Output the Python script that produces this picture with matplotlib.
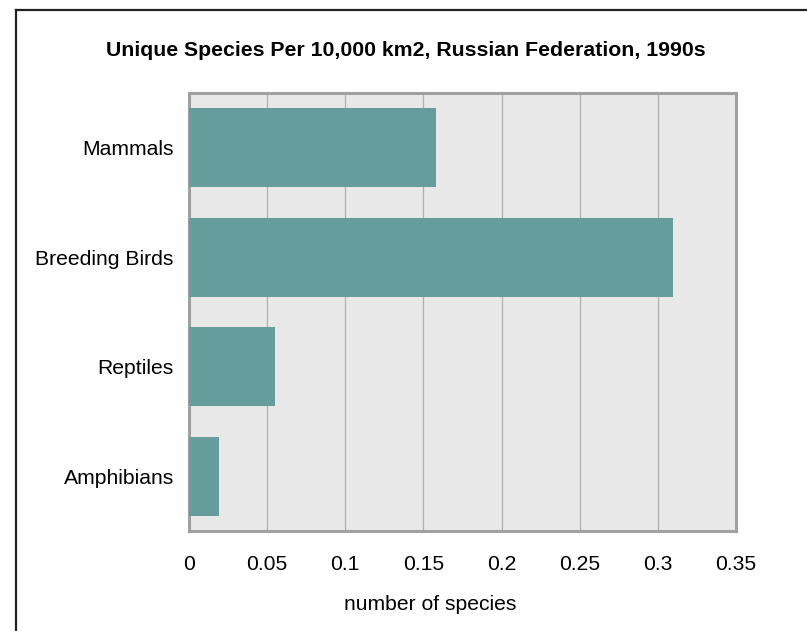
import matplotlib
matplotlib.use("Agg")
import matplotlib.pyplot as plt
from matplotlib.lines import Line2D

categories = ["Mammals", "Breeding Birds", "Reptiles", "Amphibians"]
values = [0.158, 0.31, 0.055, 0.019]
xticks = [0, 0.05, 0.1, 0.15, 0.2, 0.25, 0.3, 0.35]
xticklabels = ["0", "0.05", "0.1", "0.15", "0.2", "0.25", "0.3", "0.35"]

plt.rcParams['font.family'] = ['Liberation Sans', 'DejaVu Sans']

W, H = 807, 631
fig = plt.figure(figsize=(W / 100, H / 100), dpi=100)

# outer frame (left and top visible)
fig.add_artist(Line2D([16 / W, 16 / W], [0, 1 - 10 / H], transform=fig.transFigure,
                      color="#222222", lw=1.6))
fig.add_artist(Line2D([16 / W, 1], [1 - 10 / H, 1 - 10 / H], transform=fig.transFigure,
                      color="#222222", lw=1.6))

ax = fig.add_axes([189 / W, 1 - 531 / H, (736 - 189) / W, (531 - 93) / H])
ax.set_facecolor("#e8e8e8")
ypos = list(range(len(categories)))
ax.barh(ypos, values, height=0.72, color="#659c9c", zorder=3)
ax.set_ylim(len(categories) - 0.5, -0.5)
ax.set_xlim(0, 0.35)
ax.set_yticks(ypos)
ax.set_yticklabels(categories, fontsize=15.2)
ax.set_xticks(xticks)
ax.set_xticklabels(xticklabels, fontsize=15.2)
ax.tick_params(axis="both", length=0)
ax.tick_params(axis="x", pad=17.5)
ax.tick_params(axis="y", pad=11)
ax.xaxis.grid(True, color="#b0b0b0", lw=0.9, zorder=1)
ax.set_axisbelow(True)
for s in ax.spines.values():
    s.set_color("#a0a0a0")
    s.set_linewidth(2.2)

fig.text(406 / W, 1 - 50 / H, "Unique Species Per 10,000 km2, Russian Federation, 1990s",
         ha="center", va="center", fontsize=15.3, fontweight="bold")
fig.text(430 / W, 1 - 605 / H, "number of species", ha="center", va="center", fontsize=15.2)

fig.savefig("out.png", dpi=100)
